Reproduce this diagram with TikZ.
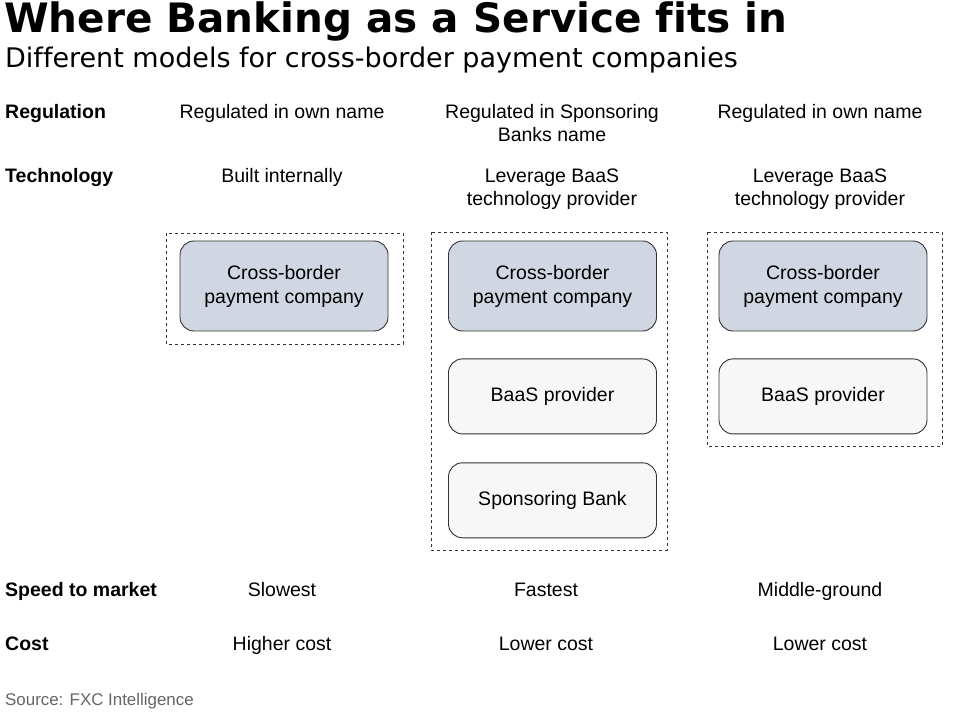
\documentclass[tikz,border=0pt]{standalone}
\usepackage{fontspec}
\setmainfont{Liberation Sans}
\newfontfamily\headfont[Ligatures=NoCommon]{DejaVu Sans}
\usetikzlibrary{positioning}
\definecolor{boxblue}{HTML}{D0D7E2}
\definecolor{boxgrey}{HTML}{F7F7F7}
\definecolor{edge}{HTML}{333333}
\tikzset{
  txt/.style={anchor=base, align=center, inner sep=0pt, font=\fontsize{19.5}{23}\selectfont},
  hdr/.style={anchor=base west, inner sep=0pt, font=\fontsize{19.5}{23}\selectfont\bfseries},
  firm/.style={draw=edge, line width=0.9pt, rounded corners=14pt, fill=boxblue, minimum width=208pt, minimum height=90pt, align=center, font=\fontsize{19.5}{24}\selectfont},
  partner/.style={firm, fill=boxgrey, minimum height=75pt},
  frame/.style={draw=edge, dashed, line width=0.7pt}
}
\begin{document}
\begin{tikzpicture}[x=1pt,y=-1pt]
   \useasboundingbox[fill=white] (0,0) rectangle (959,714);
   \node[anchor=base west, inner sep=0pt, font=\headfont\bfseries\fontsize{40.5}{42}\selectfont] (title) at (4,33) {Where Banking as a Service fits in};
   \node[anchor=base west, inner sep=0pt, font=\headfont\fontsize{27}{30}\selectfont] (sub) at (5,68) {Different models for cross-border payment companies};
   \node[hdr] (reg) at (5,119) {Regulation}; \node[hdr] (tech) at (5,183) {Technology};
   \node[hdr] (speed) at (5,596) {Speed to market}; \node[hdr] (cost) at (5,650) {Cost};
   \node[txt] (regA) at (282,119) {Regulated in own name};
   \node[txt] (regB) at (552,142) {Regulated in Sponsoring\\Banks name};
   \node[txt] (regC) at (820,119) {Regulated in own name};
   \node[txt] (techA) at (282,183) {Built internally};
   \node[txt] (techB) at (552,206) {Leverage BaaS\\technology provider};
   \node[txt] (techC) at (820,206) {Leverage BaaS\\technology provider};
   \draw[frame] (166,233) rectangle (403,344); \draw[frame] (431,232) rectangle (667,550); \draw[frame] (707,232) rectangle (942,446);
   \node[firm] (cbA) at (284,286) {Cross-border\\payment company};
   \node[firm] (cbB) at (552.5,286) {Cross-border\\payment company};
   \node[partner, below=27pt of cbB] (baasB) {BaaS provider};
   \node[partner, below=28pt of baasB] (bankB) {Sponsoring Bank};
   \node[firm] (cbC) at (823,286) {Cross-border\\payment company};
   \node[partner, below=27pt of cbC] (baasC) {BaaS provider};
   \node[txt] (speedA) at (282,596) {Slowest}; \node[txt] (speedB) at (546,596) {Fastest}; \node[txt] (speedC) at (820,596) {Middle-ground};
   \node[txt] (costA) at (282,650) {Higher cost}; \node[txt] (costB) at (546,650) {Lower cost}; \node[txt] (costC) at (820,650) {Lower cost};
   \node[anchor=base west, inner sep=0pt, text=black!60, font=\fontsize{16.9}{20}\selectfont] (src) at (5,705) {Source: FXC Intelligence};
\end{tikzpicture}
\end{document}
